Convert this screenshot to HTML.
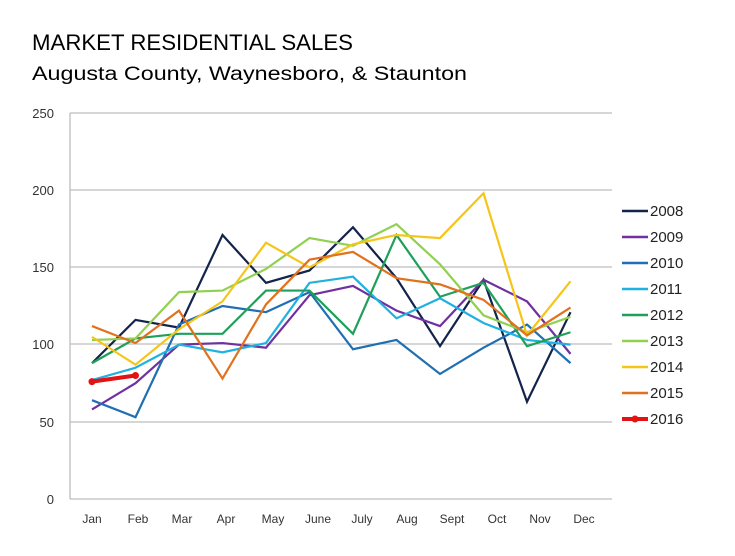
<!DOCTYPE html><html><head><style>body{margin:0;background:#fff}</style></head><body>
<svg width="735" height="551" xmlns="http://www.w3.org/2000/svg" font-family="Liberation Sans, sans-serif">
<text x="32" y="50" font-size="22" fill="#000" textLength="321" lengthAdjust="spacingAndGlyphs">MARKET RESIDENTIAL SALES</text>
<text x="32" y="80" font-size="19" fill="#000" textLength="435" lengthAdjust="spacingAndGlyphs">Augusta County, Waynesboro, &amp; Staunton</text>
<g stroke="#bdbdbd" stroke-width="1.3">
<line x1="70" y1="113" x2="612" y2="113"/><line x1="70" y1="190" x2="612" y2="190"/><line x1="70" y1="267" x2="612" y2="267"/><line x1="70" y1="344" x2="612" y2="344"/><line x1="70" y1="422" x2="612" y2="422"/><line x1="70" y1="499" x2="612" y2="499"/><line x1="70" y1="113" x2="70" y2="499"/></g>
<g font-size="13" fill="#333" text-anchor="end"><text x="54" y="118">250</text><text x="54" y="195">200</text><text x="54" y="272">150</text><text x="54" y="349">100</text><text x="54" y="427">50</text><text x="54" y="504">0</text></g>
<g font-size="12" fill="#333" text-anchor="middle"><text x="92" y="523">Jan</text><text x="138" y="523">Feb</text><text x="182" y="523">Mar</text><text x="226" y="523">Apr</text><text x="273" y="523">May</text><text x="318" y="523">June</text><text x="362" y="523">July</text><text x="407" y="523">Aug</text><text x="452" y="523">Sept</text><text x="497" y="523">Oct</text><text x="540" y="523">Nov</text><text x="584" y="523">Dec</text></g>
<g id="lines" fill="none" stroke-width="2.2"></g>
<g id="leg" font-size="15" fill="#222"></g>
<script>
var d=[["2008","#13244a",[88,116,111,171,140,148,176,143,99,142,63,121]],["2009","#7030a0",[58,75,100,101,98,132,138,122,112,142,128,94]],["2010","#1f6fb2",[64,53,113,125,121,134,97,103,81,98,113,88]],["2011","#1fb1e0",[77,85,100,95,101,140,144,117,130,114,103,100]],["2012","#1ea05a",[88,104,107,107,135,135,107,171,131,140,99,108]],["2013","#92d050",[103,104,134,135,149,169,164,178,152,119,108,118]],["2014","#f5c518",[105,87,110,128,166,150,165,171,169,198,106,141]],["2015","#e2711d",[112,101,122,78,126,155,160,143,139,129,106,124]],["2016","#e31313",[76,80]]];
var ns="http://www.w3.org/2000/svg",L=document.getElementById("lines"),G=document.getElementById("leg");
d.forEach(function(s,k){var p=s[2].map(function(v,i){return (92+i*43.5)+","+(499-1.544*v)}).join(" ");
var e=document.createElementNS(ns,"polyline");e.setAttribute("points",p);e.setAttribute("stroke",s[1]);if(k==8)e.setAttribute("stroke-width","4");L.appendChild(e);
var y=211+k*26;var l=document.createElementNS(ns,"line");l.setAttribute("x1",622);l.setAttribute("x2",648);l.setAttribute("y1",y);l.setAttribute("y2",y);l.setAttribute("stroke",s[1]);l.setAttribute("stroke-width",k==8?4:2.5);G.appendChild(l);
var t=document.createElementNS(ns,"text");t.setAttribute("x",650);t.setAttribute("y",y+5);t.textContent=s[0];G.appendChild(t);
if(k==8){[[92,499-1.544*76],[135.5,499-1.544*80],[635,y]].forEach(function(c){var o=document.createElementNS(ns,"circle");o.setAttribute("cx",c[0]);o.setAttribute("cy",c[1]);o.setAttribute("r",3.5);o.setAttribute("fill",s[1]);L.appendChild(o);});}});
</script>
</svg></body></html>
